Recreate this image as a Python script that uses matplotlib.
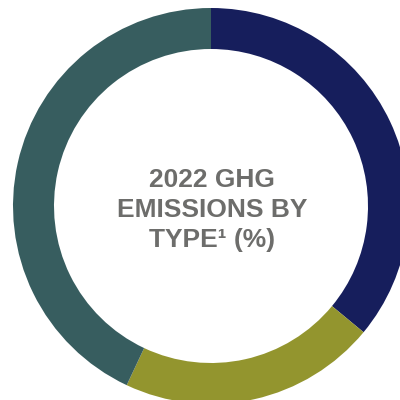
import matplotlib
matplotlib.use("Agg")
import matplotlib.pyplot as plt

# emissions share by type (%), clockwise from 12 o'clock
types = ["Type A", "Type B", "Type C"]
shares = [36, 21, 43]
colors = ["#161e5c", "#93952e", "#375d5f"]
title = "2022 GHG\nEMISSIONS BY\nTYPE\u00b9 (%)"

plt.rcParams["font.family"] = ["Liberation Sans", "DejaVu Sans"]

fig = plt.figure(figsize=(4, 4), dpi=100)
ax = fig.add_axes([0, 0, 1, 1])
ax.pie(shares, colors=colors, startangle=90, counterclock=False,
       center=(211, 194), radius=198,
       wedgeprops=dict(width=41, edgecolor="none"))
ax.set_xlim(0, 400)
ax.set_ylim(0, 400)
ax.set_aspect("equal")
ax.axis("off")

ax.text(212, 190, title, ha="center", va="center", fontsize=19,
        fontweight="bold", color="#6d6d6b", linespacing=1.3)

fig.savefig("out.png", dpi=100)
